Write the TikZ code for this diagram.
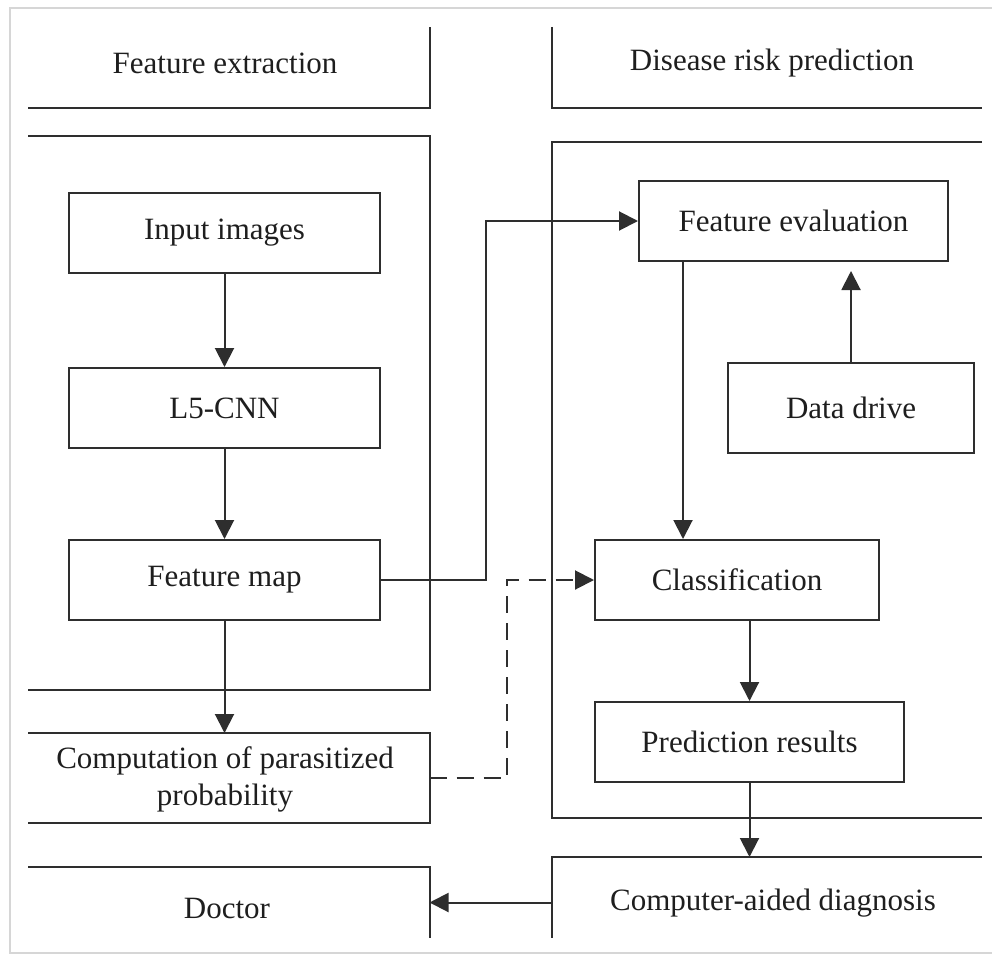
\documentclass[tikz,border=0pt]{standalone}
\usepackage{fontspec}
\setmainfont{Liberation Serif}
\usetikzlibrary{arrows.meta}
\definecolor{ink}{HTML}{2E2E2E}
\definecolor{txtc}{HTML}{1E1E1E}
\definecolor{framec}{HTML}{D6D6D6}
\begin{document}
\begin{tikzpicture}[x=1pt,y=-1pt,
  every node/.style={font=\fontsize{31}{37}\selectfont, text=txtc},
  boxnode/.style={draw=ink, line width=2pt, rectangle, inner sep=0pt, minimum height=80pt},
  region/.style={rectangle, inner sep=0pt, outer sep=0pt},
  txtnode/.style={inner sep=0pt, align=center},
  panelline/.style={draw=ink, line width=2pt},
  arr/.style={draw=ink, line width=2pt, -{Triangle[length=19pt,width=19pt]}},
  dashline/.style={dash pattern=on 17pt off 10pt}
]
\useasboundingbox (0,0) rectangle (992,955);
% outer frame
\draw[framec, line width=2.5pt] (992,8) -- (10,8) -- (10,953) -- (992,953);

% regions of the lanes
\node[region, minimum width=401.5pt, minimum height=81pt] (hdrL) at (228.75,67.5) {};
\node[region, minimum width=401.5pt, minimum height=553.5pt] (panL) at (228.75,412.75) {};
\node[region, minimum width=401.5pt, minimum height=90pt] (comp) at (228.75,778) {};
\node[region, minimum width=401.5pt, minimum height=71pt] (doc) at (228.75,902.5) {};
\node[region, minimum width=430.5pt, minimum height=81pt] (hdrR) at (766.75,67.5) {};
\node[region, minimum width=430.5pt, minimum height=676pt] (panR) at (766.75,480) {};
\node[region, minimum width=430.5pt, minimum height=81pt] (cad) at (766.75,897.5) {};

% lane borders
\draw[panelline] (hdrL.south west) -- (hdrL.south east) -- (hdrL.north east);
\draw[panelline] (panL.north west) -- (panL.north east) -- (panL.south east) -- (panL.south west);
\draw[panelline] (comp.north west) -- (comp.north east) -- (comp.south east) -- (comp.south west);
\draw[panelline] (doc.north west) -- (doc.north east) -- (doc.south east);
\draw[panelline] (hdrR.north west) -- (hdrR.south west) -- (hdrR.south east);
\draw[panelline] (panR.north east) -- (panR.north west) -- (panR.south west) -- (panR.south east);
\draw[panelline] (cad.north east) -- (cad.north west) -- (cad.south west);

% lane texts
\node[txtnode] (tfe) at (225,63) {Feature extraction};
\node[txtnode] (tdrp) at (772,63) {Disease risk prediction};
\node[txtnode] (tcomp) at (225,779) {Computation of parasitized\\probability};
\node[txtnode] (tdoc) at (227,908) {Doctor};
\node[txtnode] (tcad) at (773,903) {Computer-aided diagnosis};

% boxes
\node[boxnode, minimum width=311pt] (inp) at (224.5,233) {Input images};
\node[boxnode, minimum width=311pt] (cnn) at (224.5,408) {L5-CNN};
\node[boxnode, minimum width=311pt] (fmap) at (224.5,580) {Feature map};
\node[boxnode, minimum width=309pt] (feval) at (793.5,221) {Feature evaluation};
\node[boxnode, minimum width=246pt, minimum height=90pt] (ddrive) at (851,408) {Data drive};
\node[boxnode, minimum width=284pt] (cls) at (737,580) {Classification};
\node[boxnode, minimum width=309pt] (pred) at (749.5,742) {Prediction results};

% connectors
\draw[arr] (inp) -- (cnn);
\draw[arr] (cnn) -- (fmap);
\draw[arr] (fmap.south) -- (fmap.south |- comp.north);
\draw[arr] (fmap.east) -- ++(105,0) |- (feval.west);
\draw[arr] (ddrive.north) -- ([yshift=-9pt]ddrive.north |- feval.south);
\draw[arr] ([xshift=-110.5pt]feval.south) -- ([xshift=-110.5pt]feval.south |- cls.north);
\draw[arr] (pred.north |- cls.south) -- (pred.north);
\draw[arr] (pred.south) -- (pred.south |- cad.north);
\draw[arr] (doc.east -| cad.west) -- (doc.east);
\draw[arr, dashline] (comp.east) -- ++(77.5,0) |- (cls.west);
\end{tikzpicture}
\end{document}
